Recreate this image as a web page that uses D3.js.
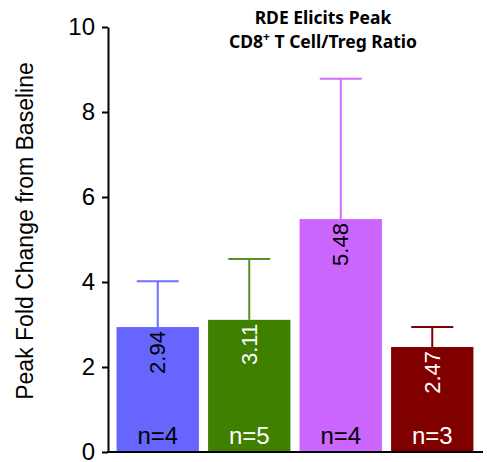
<!DOCTYPE html>
<html>
<head>
<meta charset="utf-8">
<script src="https://cdn.jsdelivr.net/npm/d3@7"></script>
<style>
  html, body { margin: 0; padding: 0; background: #fff; }
  svg { display: block; }
</style>
</head>
<body>
<svg id="chart" width="487" height="462"></svg>
<script>
// Peak CD8+ T cell / Treg ratio per group
const groups = ["A", "B", "C", "D"];
const means = [2.94, 3.11, 5.48, 2.47];
const upperErr = [4.02, 4.54, 8.78, 2.94];
const nLabels = ["n=4", "n=5", "n=4", "n=3"];
const barColors = ["#6666ff", "#408000", "#cc66ff", "#800000"];
const errColors = ["#6f6fff", "#5b8f26", "#cc70ff", "#800000"];
const textColors = ["#000", "#fff", "#000", "#fff"];
const yTicks = [0, 2, 4, 6, 8, 10];

const svg = d3.select("#chart");
const font = "Liberation Sans, Arial, sans-serif";

const y = d3.scaleLinear().domain([0, 10]).range([452, 27]);
const x = d3.scaleBand().domain(groups).range([112, 478]).paddingInner(0.1).paddingOuter(0.05);

// bars
svg.selectAll("rect.bar").data(groups).join("rect")
  .attr("class", "bar")
  .attr("x", d => x(d))
  .attr("width", x.bandwidth())
  .attr("y", (d, i) => y(means[i]))
  .attr("height", (d, i) => y(0) - y(means[i]))
  .attr("fill", (d, i) => barColors[i]);

// error bars (upper only)
const eg = svg.selectAll("g.err").data(groups).join("g").attr("class", "err");
eg.append("line")
  .attr("x1", d => x(d) + x.bandwidth() / 2)
  .attr("x2", d => x(d) + x.bandwidth() / 2)
  .attr("y1", (d, i) => y(means[i]))
  .attr("y2", (d, i) => y(upperErr[i]))
  .attr("stroke", (d, i) => errColors[i]).attr("stroke-width", 2);
eg.append("line")
  .attr("x1", d => x(d) + x.bandwidth() / 2 - 21)
  .attr("x2", d => x(d) + x.bandwidth() / 2 + 21)
  .attr("y1", (d, i) => y(upperErr[i]))
  .attr("y2", (d, i) => y(upperErr[i]))
  .attr("stroke", (d, i) => errColors[i]).attr("stroke-width", 2);

// value labels, rotated inside bar tops
svg.selectAll("text.val").data(groups).join("text")
  .attr("class", "val")
  .attr("transform", (d, i) => `translate(${x(d) + x.bandwidth() / 2 + 7.5},${y(means[i]) + 4}) rotate(-90)`)
  .attr("text-anchor", "end")
  .attr("font-family", font).attr("font-size", 22)
  .attr("fill", (d, i) => textColors[i])
  .text((d, i) => means[i].toFixed(2));

// n labels at bar bottoms
svg.selectAll("text.n").data(groups).join("text")
  .attr("class", "n")
  .attr("x", d => x(d) + x.bandwidth() / 2)
  .attr("y", 444)
  .attr("text-anchor", "middle")
  .attr("font-family", font).attr("font-size", 24)
  .attr("fill", (d, i) => textColors[i])
  .text((d, i) => nLabels[i]);

// y axis
const yAxis = svg.append("g")
  .attr("transform", "translate(108,0)")
  .call(d3.axisLeft(y).tickValues(yTicks).tickSize(6).tickSizeOuter(0).tickFormat(d3.format("d")));
yAxis.select(".domain").attr("stroke", "#000").attr("stroke-width", 2);
yAxis.selectAll(".tick line").attr("stroke", "#000").attr("stroke-width", 2);
yAxis.selectAll(".tick text").attr("font-family", font).attr("font-size", 24).attr("fill", "#000").attr("x", -13);

// x baseline
svg.append("line").attr("x1", 107).attr("x2", 483).attr("y1", 452).attr("y2", 452)
  .attr("stroke", "#000").attr("stroke-width", 2);

// y axis title
svg.append("text")
  .attr("transform", "translate(33,231) rotate(-90)")
  .attr("text-anchor", "middle")
  .attr("font-family", font).attr("font-size", 23)
  .attr("fill", "#000")
  .text("Peak Fold Change from Baseline");

// chart title
const title = svg.append("text")
  .attr("text-anchor", "middle")
  .attr("font-family", "Noto Sans, sans-serif").attr("font-weight", "bold").attr("font-size", 17.5)
  .attr("fill", "#000");
title.append("tspan").attr("x", 323).attr("y", 24).text("RDE Elicits Peak");
const l2 = title.append("tspan").attr("x", 323).attr("y", 48);
l2.append("tspan").text("CD8");
l2.append("tspan").attr("font-size", 12).attr("dy", -7).text("+");
l2.append("tspan").attr("dy", 7).text(" T Cell/Treg Ratio");
</script>
</body>
</html>
